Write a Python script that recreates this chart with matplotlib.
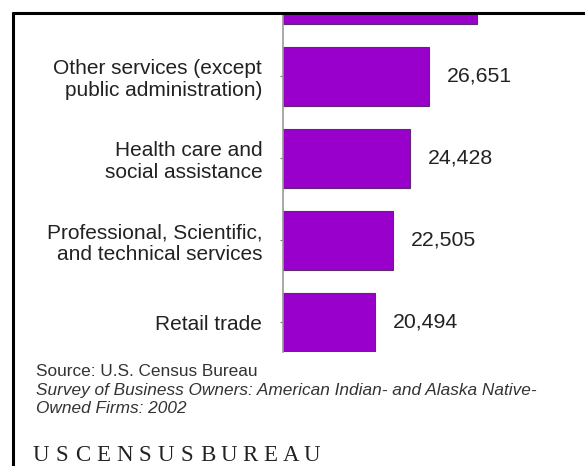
import matplotlib.pyplot as plt
from matplotlib.lines import Line2D

# Data (top bar is cut off in the picture)
categories = [
    "Retail trade",
    "Professional, Scientific,\nand technical services",
    "Health care and\nsocial assistance",
    "Other services (except\npublic administration)",
    "Construction",
]
values = [20494, 22505, 24428, 26651, 32100]
value_labels = ["20,494", "22,505", "24,428", "26,651", "32,100"]

source_line = "Source: U.S. Census Bureau"
survey_lines = ["Survey of Business Owners: American Indian- and Alaska Native-",
                "Owned Firms: 2002"]
logo = "USCENSUSBUREAU"

W, H = 585, 466
fig = plt.figure(figsize=(W / 100, H / 100), dpi=100)
plt.rcParams['font.family'] = ['Liberation Sans', 'DejaVu Sans']

# axes in pixel coordinates
ax_l, ax_r, ax_t, ax_b = 283, 570, 13, 352
ax = fig.add_axes([ax_l / W, (H - ax_b) / H, (ax_r - ax_l) / W, (ax_b - ax_t) / H])

x0 = 10000
units_per_px = 6157 / 54

pos = list(range(len(values)))
ax.barh(pos, [v - x0 for v in values], left=x0, height=0.72,
        color="#9900cc", edgecolor="#5c2a70", linewidth=0.8, zorder=2)

ax.set_yticks(pos)
ax.set_yticklabels(categories, fontsize=15, color="#222222", linespacing=1.15,
                   ha="right")
ax.tick_params(axis="y", length=2, width=0.8, color="#777777", pad=13)
ax.set_xticks([])

# limits after ticks (set_yticks would widen them)
ax.set_xlim(x0, x0 + (ax_r - ax_l) * units_per_px)
ax.set_ylim(-0.36, -0.36 + (ax_b - ax_t) / 82)

for p, v, lab in zip(pos, values, value_labels):
    ax.annotate(lab, xy=(v, p), xytext=(13, 0), textcoords="offset points",
                va="center", ha="left", fontsize=15.3, color="#222222",
                annotation_clip=True)

for s in ["top", "right", "bottom"]:
    ax.spines[s].set_visible(False)
ax.spines["left"].set_color("#999999")
ax.spines["left"].set_linewidth(1.2)
ax.set_facecolor("none")

# frame lines (top and left only)
fig.add_artist(Line2D([12 / W, 1], [1 - 13 / H, 1 - 13 / H], color="black",
                      linewidth=2.2, solid_capstyle="butt", transform=fig.transFigure))
fig.add_artist(Line2D([13 / W, 13 / W], [0, 1 - 12 / H], color="black",
                      linewidth=2.2, solid_capstyle="butt", transform=fig.transFigure))

# source notes
fig.text(36 / W, 1 - 376 / H, source_line, fontsize=12.4, color="#333333",
         va="baseline", ha="left")
for k, line in enumerate(survey_lines):
    fig.text(36 / W, 1 - (394.5 + 18.5 * k) / H, line, fontsize=12.4, color="#333333",
             va="baseline", ha="left", style="italic")

# logo
for i, ch in enumerate(logo):
    fig.text((41 + i * 20.85) / W, 1 - 461 / H, ch, fontsize=16.5,
             family="Liberation Serif", color="#222222", ha="center",
             va="baseline")

fig.savefig("out.png", dpi=100)
